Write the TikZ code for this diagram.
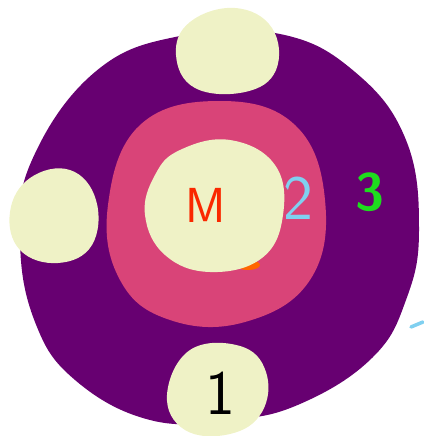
\documentclass[tikz,border=0pt]{standalone}
\usepackage{fontspec}
\usepackage{tikz}
\usetikzlibrary{positioning}
\definecolor{plum}{RGB}{103,0,113}
\definecolor{rose}{RGB}{217,68,120}
\definecolor{cream}{RGB}{239,242,198}
\definecolor{skyblue}{RGB}{128,208,240}
\definecolor{leaf}{RGB}{30,220,30}
\definecolor{ember}{RGB}{250,40,0}
\tikzset{
  blob/.style    = {fill=cream, draw=none},
  glyph/.style   = {font=\sffamily\fontsize{36}{36}\selectfont, inner sep=0pt},
}

\begin{document}
\begin{tikzpicture}[x=0.02cm, y=-0.02cm]
    \useasboundingbox (0,0) rectangle (423,436);

    % Outer ring
    \fill[plum] plot[smooth cycle, tension=0.7] coordinates {
      (95,72) (180,36) (280,34) (355,72) (406,140) (419,230)
      (406,300) (372,358) (300,404) (230,420) (150,420) (75,380)
      (35,322) (20,240) (32,160)};

    % Middle ring
    \fill[rose] plot[smooth cycle, tension=0.7] coordinates {
      (140,125) (220,101) (295,125) (325,200) (310,280)
      (245,322) (170,320) (120,280) (108,205)};

    % Core
    \fill[orange!80!red] (248,265) ellipse (12 and 5);
    \fill[cream] plot[smooth cycle, tension=0.7] coordinates {
      (180,150) (230,140) (275,165) (283,215) (262,258)
      (210,272) (165,255) (145,215) (155,175)};

    % Satellites
    \fill[blob] plot[smooth cycle, tension=0.7] coordinates {
      (190,22) (235,8) (272,28) (276,70) (245,92) (195,88) (176,55)};
    \fill[blob] plot[smooth cycle, tension=0.7] coordinates {
      (30,178) (70,170) (96,200) (92,245) (58,263) (20,250) (10,212)};
    \fill[blob] plot[smooth cycle, tension=0.7] coordinates {
      (190,350) (240,346) (266,372) (262,412) (230,434) (185,430) (167,395)};

    % Labels
    \node[glyph, text=ember, font=\sffamily\fontsize{28}{28}\selectfont] (m) at (206,205) {M};
    \node[glyph, text=skyblue] (two) at (298,198) {2};
    \node[glyph, text=leaf, font=\sffamily\bfseries\fontsize{30}{30}\selectfont] (three) at (370,192) {3};
    \node[glyph, text=black] (one) at (220,393) {1};

    % Stray stroke
    \coordinate (s1) at (411,327);
    \coordinate (s2) at (423,322);
    \draw[skyblue, line width=2pt, line cap=round] (s1) -- (s2);
  \end{tikzpicture}
\end{document}
